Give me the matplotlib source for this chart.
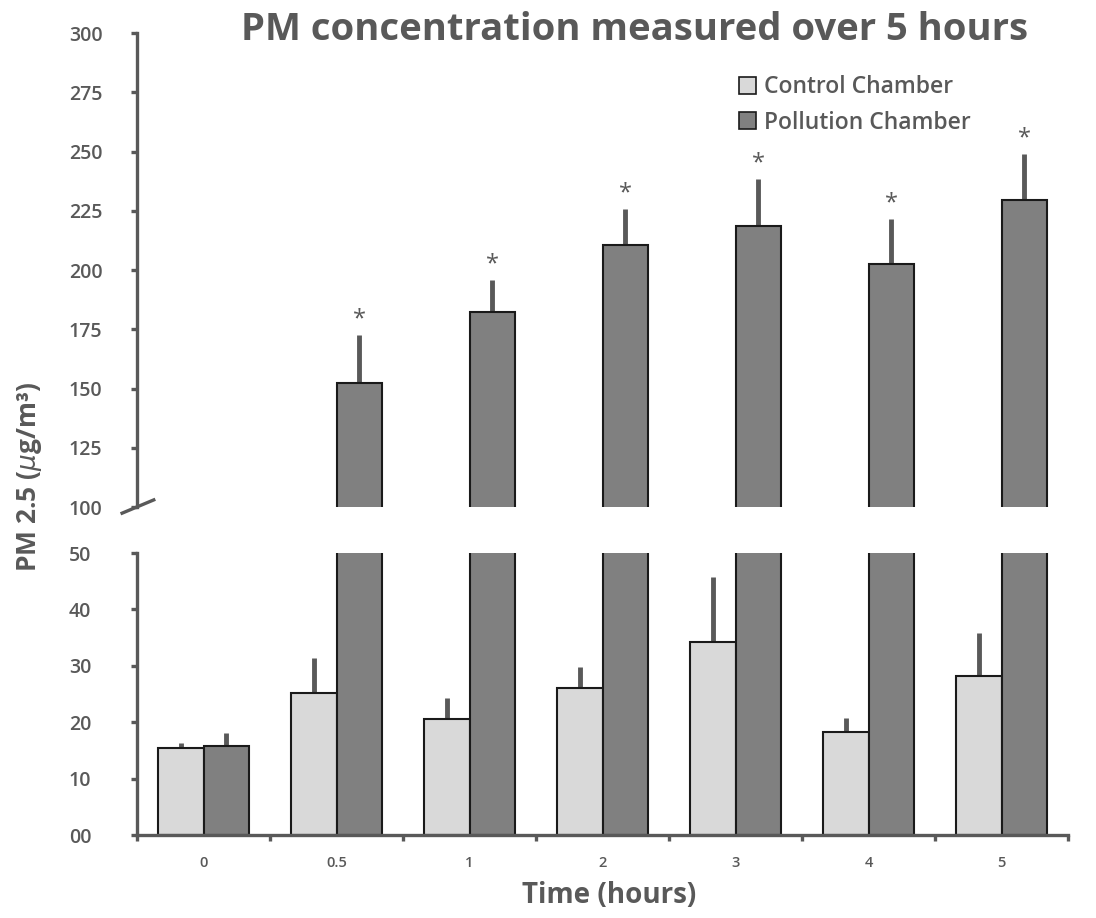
import matplotlib.pyplot as plt
import numpy as np

plt.rcParams['font.family'] = ['Open Sans', 'DejaVu Sans']

# data
times = ["0", "0.5", "1", "2", "3", "4", "5"]
control_mean = [15.4, 25.2, 20.5, 26.1, 34.3, 18.2, 28.2]
control_err = [1.0, 6.2, 3.8, 3.7, 11.4, 2.5, 7.7]
pollution_mean = [15.7, 152.3, 182.2, 210.5, 218.5, 202.4, 229.4]
pollution_err = [2.3, 20.2, 13.8, 15.1, 19.8, 19.0, 19.4]
significant = [False, True, True, True, True, True, True]
top_ticks = [100, 125, 150, 175, 200, 225, 250, 275, 300]
bottom_ticks = [0, 10, 20, 30, 40, 50]
bottom_labels = ["00", "10", "20", "30", "40", "50"]

grey = "#595959"
c_control = "#d9d9d9"
c_pollution = "#808080"

fig = plt.figure(figsize=(10.96, 9.18), dpi=100)
ax_top = fig.add_axes([0.125, 0.4477, 0.8495, 0.5163])
ax_bot = fig.add_axes([0.125, 0.0904, 0.8495, 0.3072])

x = np.arange(len(times))
w = 0.34
off = 0.17

for ax in (ax_top, ax_bot):
    ax.bar(x - off, control_mean, w, color=c_control, edgecolor="#1a1a1a", linewidth=1.5, zorder=2)
    ax.bar(x + off, pollution_mean, w, color=c_pollution, edgecolor="#1a1a1a", linewidth=1.5, zorder=2)
    ax.vlines(x - off, control_mean, np.array(control_mean) + np.array(control_err),
              color=grey, linewidth=3.5, zorder=1)
    ax.vlines(x + off, pollution_mean, np.array(pollution_mean) + np.array(pollution_err),
              color=grey, linewidth=3.5, zorder=1)
    ax.set_xlim(-0.5, len(times) - 0.5)
    for s in ("top", "right"):
        ax.spines[s].set_visible(False)
    ax.spines["left"].set_color(grey)
    ax.spines["left"].set_linewidth(2.4)
    ax.tick_params(axis="y", length=4, width=2.4, color=grey, labelcolor=grey,
                   labelsize=14, pad=45)

# significance stars
for i in range(len(times)):
    if significant[i]:
        ax_top.text(x[i] + off, pollution_mean[i] + pollution_err[i] + 1.5, "*",
                    ha="center", va="bottom", fontsize=17, color=grey)

ax_top.set_ylim(100, 300)
ax_top.set_yticks(top_ticks)
ax_top.spines["bottom"].set_visible(False)
ax_top.set_xticks([])
for lab in ax_top.get_yticklabels():
    lab.set_ha("left")
    lab.set_fontweight("semibold")

ax_bot.set_ylim(0, 50)
ax_bot.set_yticks(bottom_ticks)
ax_bot.set_yticklabels(bottom_labels)
for lab in ax_bot.get_yticklabels():
    lab.set_ha("left")
    lab.set_fontweight("semibold")
ax_bot.spines["bottom"].set_color(grey)
ax_bot.spines["bottom"].set_linewidth(2.4)
ax_bot.set_xticks(x)
ax_bot.set_xticklabels(times, fontweight="semibold")
ax_bot.set_xticks(np.arange(-0.5, len(times)), minor=True)
ax_bot.tick_params(axis="x", which="major", length=0, labelsize=10.5, labelcolor=grey, pad=15)
ax_bot.tick_params(axis="x", which="minor", length=4, width=2.4, color=grey)

# break marker on the upper axis
ax_top.plot([-0.016, 0.018], [-0.013, 0.015], transform=ax_top.transAxes,
            color=grey, linewidth=2.4, clip_on=False)

fig.text(0.579, 0.967, "PM concentration measured over 5 hours", ha="center", va="center",
         fontsize=27.5, fontweight="bold", color=grey)
fig.text(0.027, 0.48, r"PM 2.5 ($\mu$g/m³)", rotation=90, ha="center", va="center",
         fontsize=19, fontweight="bold", color=grey)
fig.text(0.556, 0.025, "Time (hours)", ha="center", va="center",
         fontsize=20, fontweight="bold", color=grey)

h1 = plt.Rectangle((0, 0), 1, 1, facecolor=c_control, edgecolor="#1a1a1a", linewidth=1.2)
h2 = plt.Rectangle((0, 0), 1, 1, facecolor=c_pollution, edgecolor="#1a1a1a", linewidth=1.2)
leg = fig.legend([h1, h2], ["Control Chamber", "Pollution Chamber"], loc="upper left",
                 bbox_to_anchor=(0.674, 0.918), frameon=False,
                 prop={"size": 16.5, "weight": "semibold"},
                 handlelength=0.75, handleheight=0.75, handletextpad=0.35,
                 labelspacing=0.5, borderpad=0, borderaxespad=0)
for t in leg.get_texts():
    t.set_color(grey)

fig.savefig("out.png", dpi=100)
